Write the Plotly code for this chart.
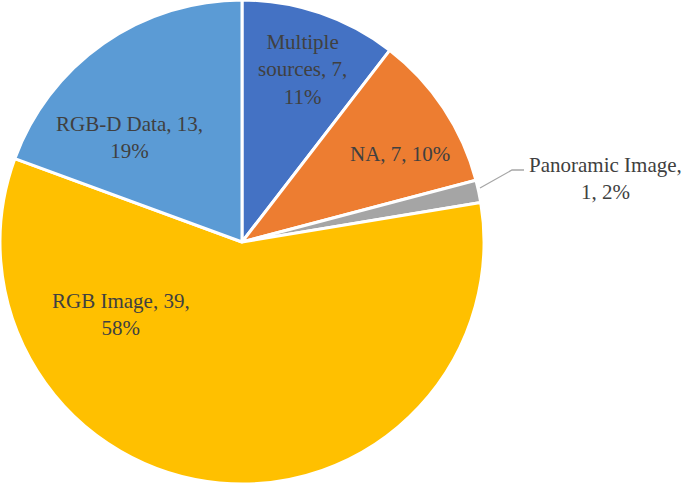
import plotly.graph_objects as go

# dados
categorias = ["Multiple sources", "NA", "Panoramic Image", "RGB Image", "RGB-D Data"]
valores = [7, 7, 1, 39, 13]
percentuais = ["11%", "10%", "2%", "58%", "19%"]
cores = ["#4472C4", "#ED7D31", "#A5A5A5", "#FFC000", "#5B9BD5"]

W, H = 685, 484
fonte = dict(family="Liberation Serif", size=21, color="#404040")

fig = go.Figure(go.Pie(
    labels=categorias,
    values=valores,
    sort=False,
    direction="clockwise",
    rotation=0,
    marker=dict(colors=cores, line=dict(color="white", width=3)),
    textinfo="none",
    hoverinfo="label+value",
    domain=dict(x=[0, H / W], y=[0, 1]),
))

# rótulos como no Excel (posições em pixels)
rotulos = [
    (f"{categorias[0]}".replace(" ", "<br>") + f", {valores[0]},<br>{percentuais[0]}", 302, 69),
    (f"{categorias[1]}, {valores[1]}, {percentuais[1]}", 400, 154),
    (f"{categorias[2]},<br>{valores[2]}, {percentuais[2]}", 605, 178),
    (f"{categorias[4]}, {valores[4]},<br>{percentuais[4]}", 129, 137),
    (f"{categorias[3]}, {valores[3]},<br>{percentuais[3]}", 121, 314),
]
for texto, px, py in rotulos:
    fig.add_annotation(text=texto, x=px / W, y=1 - py / H, xref="paper", yref="paper",
                       xanchor="center", yanchor="middle",
                       showarrow=False, font=fonte, align="center")

# linha de chamada do "Panoramic Image"
fig.add_shape(type="path", xref="paper", yref="paper",
              path=f"M {480/W} {1-188/H} L {512/W} {1-170/H} L {524/W} {1-170/H}",
              line=dict(color="#A6A6A6", width=1.3))

fig.update_layout(width=W, height=H, margin=dict(l=0, r=0, t=0, b=0),
                  showlegend=False, paper_bgcolor="white", plot_bgcolor="white")
fig.write_html("out.html", config={"displayModeBar": False},
               post_script="document.body.style.margin='0';")
